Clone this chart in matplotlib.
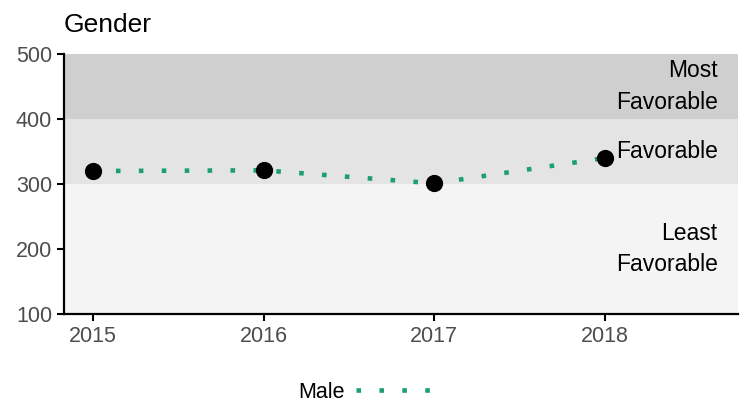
import matplotlib.pyplot as plt

plt.rcParams["font.family"] = ["Liberation Sans", "DejaVu Sans"]

years = [2015, 2016, 2017, 2018]
male = [320, 321, 301, 340]

band_edges = [100, 300, 400, 500]
band_colors = ["#f4f4f4", "#e4e4e4", "#cfcfcf"]
band_labels = ["Least\nFavorable", "Favorable", "Most\nFavorable"]
band_label_y = [200, 350, 450]

fig = plt.figure(figsize=(7.46, 4.05), dpi=100)
ax = fig.add_axes([64 / 746, 91 / 405, 674 / 746, 260 / 405])

xmin, xmax = 2014.83, 2018.78
for lo, hi, c in zip(band_edges[:-1], band_edges[1:], band_colors):
    ax.axhspan(lo, hi, color=c, zorder=0, lw=0)
for lab, y in zip(band_labels, band_label_y):
    ax.text(2018.66, y, lab, ha="right", va="center", fontsize=16.5,
            linespacing=1.45, color="black", zorder=3)

ax.plot(years, male, color="#1b9e77", lw=3.3, linestyle=(0, (1, 4.0)),
        dash_capstyle="butt", label="Male", zorder=2)
ax.scatter(years, male, s=130, color="black", zorder=4)

ax.set_xlim(xmin, xmax)
ax.set_ylim(100, 500)
ax.set_xticks(years)
ax.set_yticks([100, 200, 300, 400, 500])
ax.tick_params(labelsize=15.5, labelcolor="#4d4d4d", length=5, width=1.5)
for s in ["top", "right"]:
    ax.spines[s].set_visible(False)
for s in ["left", "bottom"]:
    ax.spines[s].set_linewidth(1.6)

ax.set_title("Gender", loc="left", fontsize=19, pad=16)

fig.legend(loc="center", bbox_to_anchor=(370 / 746, 1 - 392 / 405),
           frameon=False, markerfirst=False, handlelength=4.0,
           handletextpad=0.5, fontsize=15.5)

fig.savefig("out.png", dpi=100)
